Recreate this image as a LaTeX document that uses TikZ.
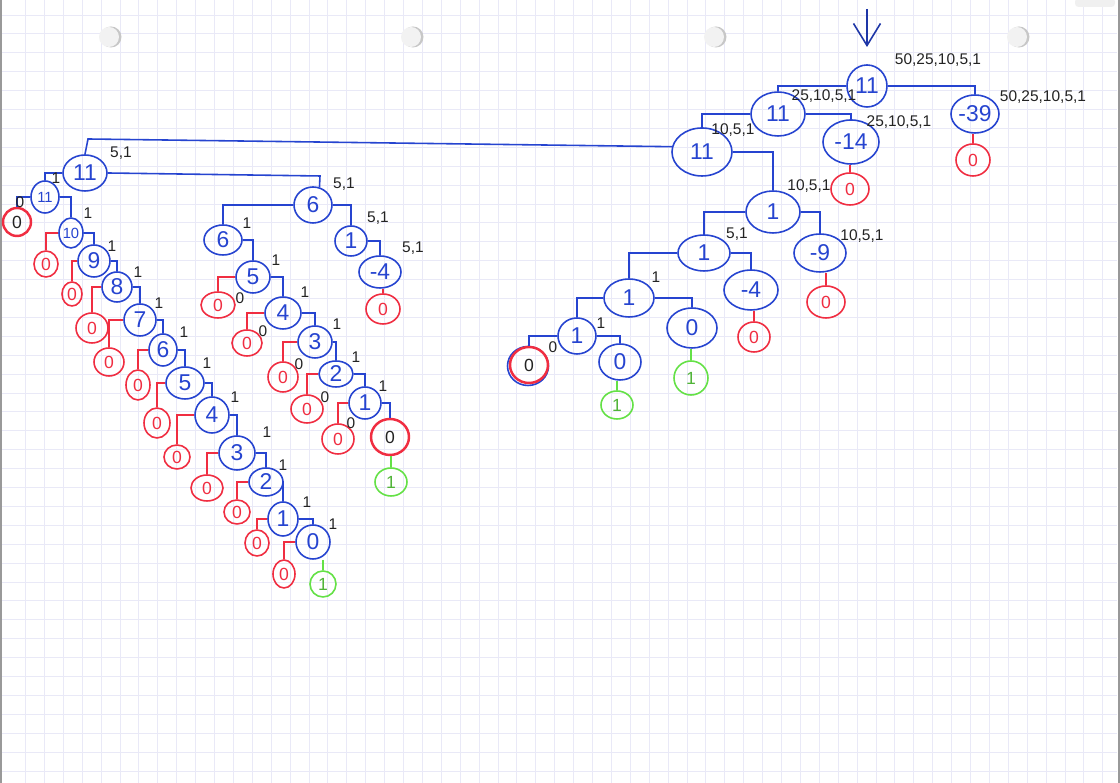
\documentclass[tikz,border=0pt]{standalone}
\usepackage{fontspec}
\setmainfont{Liberation Sans}
\usetikzlibrary{arrows.meta,shapes.geometric}
\definecolor{penblue}{RGB}{38,68,208}
\definecolor{penred}{RGB}{240,45,65}
\definecolor{pengreen}{RGB}{100,225,70}
\definecolor{pengrid}{RGB}{233,233,247}
\definecolor{penink}{RGB}{35,35,35}

\begin{document}
\begin{tikzpicture}[
  x=0.01cm, y=-0.01cm,
  sz/.style 2 args={minimum width=#1*0.01cm, minimum height=#2*0.01cm},
  blue/.style={draw=penblue, text=penblue, ellipse, inner sep=0pt, line width=0.45pt, font=\fontsize{6.5}{7}\selectfont},
  tiny/.style={font=\fontsize{4.2}{5}\selectfont},
  red/.style={draw=penred, text=penred, ellipse, inner sep=0pt, line width=0.45pt, font=\fontsize{5}{6}\selectfont},
  ring/.style={line width=0.7pt, text=penink},
  green/.style={draw=pengreen, text=pengreen!80!black, ellipse, inner sep=0pt, line width=0.45pt, font=\fontsize{5}{6}\selectfont},
  note/.style={text=penink, inner sep=0pt, font=\fontsize{4.4}{5}\selectfont},
  bl/.style={draw=penblue, line width=0.45pt},
  rl/.style={draw=penred, line width=0.45pt},
  gl/.style={draw=pengreen, line width=0.45pt}
]
\useasboundingbox (0,0) rectangle (1120,783);

% Paper
\fill[white] (0,0) rectangle (1120,783);
\foreach \i in {0,...,58} \draw[pengrid, line width=0.25pt] (25.5+\i*18.9,0) -- (25.5+\i*18.9,783);
\foreach \i in {0,...,40} \draw[pengrid, line width=0.25pt] (2,15+\i*18.9) -- (1117,15+\i*18.9);
\fill[black!40] (0,0) rectangle (2,783);
\fill[black!40] (1117.5,0) rectangle (1120,783);
\fill[black!6, rounded corners=1pt] (1075,-2) rectangle (1115,7);
\foreach \x in {109,411,714,1017} {
  \fill[black!22] (\x+2,37) circle (10.5);
  \fill[black!5] (\x,37) circle (10);
}

% Start arrow
\coordinate (start) at (867,9);
\coordinate (startend) at (867,47);
\draw[penblue!80!black, line width=0.45pt, -{Straight Barb[length=0.22cm,width=0.27cm]}] (start) -- (startend);

% Right tree
\node[blue, sz={40}{42}] (a) at (867,86) {11};
\node[blue, sz={54}{44}] (b) at (778,114) {11};
\node[blue, sz={48}{38}] (c) at (975,114) {-39};
\node[blue, sz={60}{48}] (d) at (702,152) {11};
\node[blue, sz={56}{44}] (e) at (851,142) {-14};
\node[red, sz={34}{32}] (c0) at (973,160) {0};
\node[red, sz={38}{32}] (e0) at (850,189) {0};
\node[blue, sz={54}{42}] (f) at (773,212) {1};
\node[blue, sz={52}{36}] (g) at (704,253) {1};
\node[blue, sz={52}{38}] (h) at (820,253) {-9};
\node[red, sz={38}{32}] (h0) at (826,302) {0};
\node[blue, sz={50}{38}] (i) at (629,298) {1};
\node[blue, sz={54}{40}] (j) at (751,290) {-4};
\node[red, sz={32}{30}] (j0) at (754,337) {0};
\node[blue, sz={38}{36}] (k) at (577,336) {1};
\node[blue, sz={50}{40}] (l) at (692,328) {0};
\node[green, sz={34}{34}] (l1) at (691,378) {1};
\node[blue, sz={41}{39}] (k0b) at (528,366) {};
\node[red, ring, sz={38}{36}] (k0) at (529,365) {0};
\node[blue, sz={42}{36}] (m) at (620,362) {0};
\node[green, sz={32}{28}] (m1) at (617,405) {1};

\draw[bl] (a.west) -| (b.north);
\draw[bl] (a.east) -| (c.north);
\draw[bl] (b.west) -| (d.north);
\draw[bl] (b.east) -| (e.north);
\draw[rl] (c0.north |- c.south) -- (c0.north);
\draw[rl] (e0.north |- e.south) -- (e0.north);
\draw[bl] (d.east) -| (f.north);
\draw[bl] (f.west) -| (g.north);
\draw[bl] (f.east) -| (h.north);
\draw[rl] (h0.north |- h.south) -- (h0.north);
\draw[bl] (g.west) -| (i.north);
\draw[bl] (g.east) -| (j.north);
\draw[rl] (j0.north |- j.south) -- (j0.north);
\draw[bl] (i.west) -| (k.north);
\draw[bl] (i.east) -| (l.north);
\draw[gl] (l1.north |- l.south) -- (l1.north);
\draw[bl] (k.west) -| (k0.north);
\draw[bl] (k.east) -| (m.north);
\draw[gl] (m1.north |- m.south) -- (m1.north);

% Left tree
\node[blue, sz={44}{36}] (n) at (85,173) {11};
\node[blue, tiny, sz={28}{32}] (o) at (45,197) {11};
\node[red, ring, sz={28}{28}] (o0) at (17,222) {0};
\node[blue, tiny, sz={24}{30}] (p10) at (71,233) {10};
\node[red, sz={24}{26}] (r10) at (46,264) {0};
\node[blue, sz={32}{32}] (p9) at (94,261) {9};
\node[red, sz={20}{24}] (r9) at (72,294) {0};
\node[blue, sz={30}{30}] (p8) at (117,287) {8};
\node[red, sz={32}{30}] (r8) at (92,328) {0};
\node[blue, sz={32}{32}] (p7) at (140,320) {7};
\node[red, sz={30}{28}] (r7) at (109,362) {0};
\node[blue, sz={28}{32}] (p6) at (163,350) {6};
\node[red, sz={24}{30}] (r6) at (138,385) {0};
\node[blue, sz={38}{32}] (p5) at (185,383) {5};
\node[red, sz={26}{30}] (r5) at (157,423) {0};
\node[blue, sz={34}{36}] (p4) at (212,415) {4};
\node[red, sz={26}{24}] (r4) at (177,457) {0};
\node[blue, sz={36}{34}] (p3) at (237,453) {3};
\node[red, sz={32}{26}] (r3) at (207,488) {0};
\node[blue, sz={34}{28}] (p2) at (266,482) {2};
\node[red, sz={26}{24}] (r2) at (237,512) {0};
\node[blue, sz={30}{34}] (p1) at (283,519) {1};
\node[red, sz={24}{26}] (r1) at (257,543) {0};
\node[blue, sz={34}{34}] (p0) at (313,542) {0};
\node[red, sz={22}{28}] (r0) at (284,574) {0};
\node[green, sz={26}{26}] (g0) at (323,584) {1};

\coordinate (farleft) at (88,139);
\draw[bl] (d.170) -- (farleft) -- (n.north);
\draw[bl] (n.west) -| (o.north);
\draw[bl] (o.west) -| (o0.north);
\draw[bl] (o.east) -| (p10.north);
\draw[rl] (p10.west) -| (r10.north);
\draw[bl] (p10.east) -| (p9.north);
\draw[rl] (p9.west) -| (r9.north);
\draw[bl] (p9.east) -| (p8.north);
\draw[rl] (p8.west) -| (r8.north);
\draw[bl] (p8.east) -| (p7.north);
\draw[rl] (p7.west) -| (r7.north);
\draw[bl] (p7.east) -| (p6.north);
\draw[rl] (p6.west) -| (r6.north);
\draw[bl] (p6.east) -| (p5.north);
\draw[rl] (p5.west) -| (r5.north);
\draw[bl] (p5.east) -| (p4.north);
\draw[rl] (p4.west) -| (r4.north);
\draw[bl] (p4.east) -| (p3.north);
\draw[rl] (p3.west) -| (r3.north);
\draw[bl] (p3.east) -| (p2.north);
\draw[rl] (p2.west) -| (r2.north);
\draw[bl] (p2.east) -| (p1.north);
\draw[rl] (p1.west) -| (r1.north);
\draw[bl] (p1.east) -| (p0.north);
\draw[rl] (p0.west) -| (r0.north);
\draw[gl] (g0.north |- p0.south) -- (g0.north);

% Middle tree
\node[blue, sz={38}{36}] (q) at (313,205) {6};
\node[blue, sz={38}{30}] (q6) at (223,240) {6};
\node[blue, sz={32}{30}] (s) at (351,241) {1};
\node[blue, sz={42}{32}] (t) at (380,272) {-4};
\node[red, sz={34}{30}] (t0) at (383,309) {0};
\node[blue, sz={34}{32}] (q5) at (253,277) {5};
\node[red, sz={34}{26}] (w5) at (218,305) {0};
\node[blue, sz={36}{32}] (q4) at (283,313) {4};
\node[red, sz={30}{26}] (w4) at (247,343) {0};
\node[blue, sz={34}{32}] (q3) at (315,342) {3};
\node[red, sz={30}{30}] (w3) at (283,377) {0};
\node[blue, sz={34}{26}] (q2) at (336,374) {2};
\node[red, sz={32}{28}] (w2) at (307,409) {0};
\node[blue, sz={32}{32}] (q1) at (365,403) {1};
\node[red, sz={32}{30}] (w1) at (338,439) {0};
\node[red, ring, sz={38}{36}] (q0) at (390,437) {0};
\node[green, sz={32}{28}] (x0) at (391,482) {1};

\coordinate (midbend) at (320,176);
\draw[bl] (n.east) -- (midbend) -- (q.70);
\draw[bl] (q.west) -| (q6.north);
\draw[bl] (q.east) -| (s.north);
\draw[bl] (s.east) -| (t.north);
\draw[rl] (t0.north |- t.south) -- (t0.north);
\draw[bl] (q6.east) -| (q5.north);
\draw[rl] (q5.west) -| (w5.north);
\draw[bl] (q5.east) -| (q4.north);
\draw[rl] (q4.west) -| (w4.north);
\draw[bl] (q4.east) -| (q3.north);
\draw[rl] (q3.west) -| (w3.north);
\draw[bl] (q3.east) -| (q2.north);
\draw[rl] (q2.west) -| (w2.north);
\draw[bl] (q2.east) -| (q1.north);
\draw[rl] (q1.west) -| (w1.north);
\draw[bl] (q1.east) -| (q0.north);
\draw[gl] (x0.north |- q0.south) -- (x0.north);

% Coin lists
\foreach \x/\y/\t [count=\i] in {
  938/60/{50,25,10,5,1}, 1043/97/{50,25,10,5,1}, 824/96/{25,10,5,1}, 899/122/{25,10,5,1},
  733/130/{10,5,1}, 809/186/{10,5,1}, 862/236/{10,5,1}, 737/234/{5,1},
  656/277/1, 601/323/1, 553/347/0,
  121/153/{5,1}, 56/178/1, 20/202/0, 88/213/1, 112/246/1, 138/272/1, 159/303/1, 184/332/1,
  207/363/1, 235/397/1, 267/432/1, 283/465/1, 307/502/1, 333/524/1,
  344/184/{5,1}, 378/218/{5,1}, 413/248/{5,1}, 247/223/1, 276/260/1, 305/292/1, 337/324/1,
  356/357/1, 383/386/1, 240/298/0, 263/331/0, 299/364/0, 325/397/0, 351/423/0} {
  \node[note] (note\i) at (\x,\y) {\t};
}

\end{tikzpicture}
\end{document}
